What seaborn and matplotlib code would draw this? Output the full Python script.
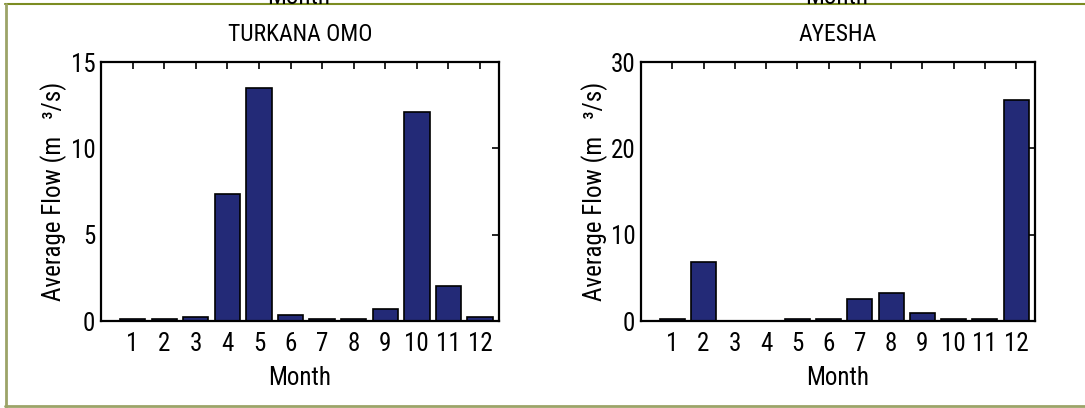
# Average monthly flow for two stations, drawn as MATLAB-style bar charts.
import matplotlib
matplotlib.use("Agg")
import matplotlib.pyplot as plt
import seaborn as sns
from matplotlib.lines import Line2D

months = [1, 2, 3, 4, 5, 6, 7, 8, 9, 10, 11, 12]
turkana_omo = [0.10, 0.10, 0.23, 7.38, 13.47, 0.35, 0.10, 0.10, 0.68, 12.08, 2.05, 0.23]
ayesha = [0.20, 6.88, 0.02, 0.02, 0.20, 0.20, 2.51, 3.21, 0.93, 0.20, 0.20, 25.59]
turkana_yticks = [0, 5, 10, 15]
ayesha_yticks = [0, 10, 20, 30]

BAR = "#232A77"
FONT = ["Roboto Condensed", "Lato", "DejaVu Sans"]

sns.set_style("white")
plt.rcParams["font.family"] = FONT
plt.rcParams["axes.linewidth"] = 1.6
plt.rcParams["text.color"] = "black"
plt.rcParams["axes.labelcolor"] = "black"

fig = plt.figure(figsize=(10.85, 4.08), dpi=100)
ax1 = fig.add_axes([0.0931, 0.2132, 0.3668, 0.6348])
ax2 = fig.add_axes([0.5908, 0.2132, 0.3629, 0.6348])


def draw(ax, values, title, yticks):
    sns.barplot(x=months, y=values, native_scale=True, color=BAR,
                edgecolor="black", linewidth=1.2, width=0.8,
                errorbar=None, saturation=1, ax=ax)
    ax.set_xlim(0, 12.6)
    ax.set_ylim(yticks[0], yticks[-1])
    ax.set_xticks(months)
    ax.set_xticklabels([str(m) for m in months])
    ax.set_yticks(yticks)
    ax.tick_params(direction="in", length=5, width=1.2, top=True, right=True,
                   labelsize=18, colors="black")
    ax.tick_params(axis="x", pad=8)
    ax.tick_params(axis="y", pad=4)
    for s in ax.spines.values():
        s.set_color("black")
        s.set_visible(True)
    ax.set_title(title, fontsize=17, pad=15)
    ax.set_xlabel("Month", fontsize=18)
    ax.set_ylabel("Average Flow (m   \u00b3/s)", fontsize=18)
    ax.xaxis.set_label_coords(0.5, -0.175)
    ax.yaxis.set_label_coords(-0.085, 0.5)
    ax.xaxis.label.set_va("top")


draw(ax1, turkana_omo, "TURKANA OMO", turkana_yticks)
draw(ax2, ayesha, "AYESHA", ayesha_yticks)

# clipped label of the row above
for x in [0.275, 0.771]:
    fig.text(x, 0.978, "Month", fontsize=18, ha="center", va="bottom")

# page border
fig.add_artist(Line2D([0.005, 1.0], [0.990, 0.990], color="#7C8C22", lw=1.5,
                      transform=fig.transFigure))
fig.add_artist(Line2D([0.0055, 0.0055], [0.003, 0.990], color="#9CA468", lw=2,
                      transform=fig.transFigure))
fig.add_artist(Line2D([0.005, 1.0], [0.004, 0.004], color="#9CA468", lw=2,
                      transform=fig.transFigure))

fig.savefig("out.png", dpi=100)
